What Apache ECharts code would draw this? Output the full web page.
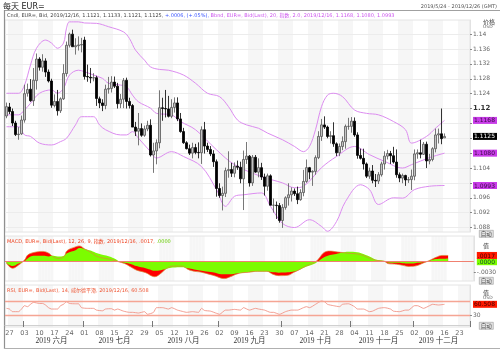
<!DOCTYPE html>
<html>
<head>
<meta charset="utf-8">
<script src="https://cdn.jsdelivr.net/npm/echarts@6/dist/echarts.min.js"></script>
<style>
  html, body { margin: 0; padding: 0; background: #fff; }
  #chart { width: 500px; height: 352px; }
</style>
</head>
<body>
<div id="chart"></div>
<script>
// --- categories: trading days 2019/5/24 .. 2019/12/26 ----------------------
const firstDay = "2019-05-24";
const lastDay = "2019-12-26";
const dates = [];
for (let d = new Date(firstDay + "T00:00:00Z"); d <= new Date(lastDay + "T00:00:00Z"); d.setUTCDate(d.getUTCDate() + 1)) {
  const w = d.getUTCDay();
  if (w !== 0 && w !== 6) dates.push(d.toISOString().slice(0, 10));
}

// --- daily candles (EUR=, bid) --------------------------------------------
const open = [
  1.1180, 1.1204, 1.1192, 1.1161, 1.1130, 1.1132, 1.1169, 1.1241, 1.1252, 1.1221,
  1.1275, 1.1333, 1.1311, 1.1328, 1.1298, 1.1274, 1.1208, 1.1219, 1.1194, 1.1226,
  1.1294, 1.1370, 1.1400, 1.1366, 1.1369, 1.1371, 1.1384, 1.1286, 1.1284, 1.1282,
  1.1283, 1.1226, 1.1215, 1.1208, 1.1252, 1.1254, 1.1271, 1.1260, 1.1213, 1.1225,
  1.1276, 1.1219, 1.1208, 1.1150, 1.1139, 1.1146, 1.1128, 1.1145, 1.1155, 1.1075,
  1.1086, 1.1108, 1.1202, 1.1200, 1.1199, 1.1179, 1.1203, 1.1215, 1.1172, 1.1138,
  1.1108, 1.1092, 1.1080, 1.1095, 1.1082, 1.1081, 1.1143, 1.1099, 1.1090, 1.1078,
  1.1057, 1.0985, 1.0966, 1.0972, 1.1033, 1.1036, 1.1026, 1.1045, 1.1042, 1.1011,
  1.1063, 1.1072, 1.1000, 1.1069, 1.1029, 1.1041, 1.1016, 1.0991, 1.1019, 1.0940,
  1.0940, 1.0939, 1.0899, 1.0934, 1.0960, 1.0968, 1.0978, 1.0971, 1.0955, 1.0974,
  1.1004, 1.1041, 1.1029, 1.1031, 1.1068, 1.1125, 1.1156, 1.1150, 1.1125, 1.1127,
  1.1105, 1.1081, 1.1098, 1.1111, 1.1152, 1.1152, 1.1166, 1.1129, 1.1074, 1.1066,
  1.1051, 1.1018, 1.1032, 1.1007, 1.1005, 1.1022, 1.1051, 1.1072, 1.1079, 1.1073,
  1.1056, 1.1022, 1.1013, 1.1020, 1.1008, 1.1009, 1.1018, 1.1078, 1.1081, 1.1077,
  1.1104, 1.1059, 1.1063, 1.1092, 1.1129, 1.1132, 1.1121
];
const high = [
  1.1216, 1.1215, 1.1200, 1.1167, 1.1150, 1.1181, 1.1264, 1.1267, 1.1279, 1.1309,
  1.1348, 1.1338, 1.1346, 1.1335, 1.1305, 1.1280, 1.1238, 1.1250, 1.1230, 1.1319,
  1.1380, 1.1404, 1.1412, 1.1389, 1.1394, 1.1390, 1.1393, 1.1318, 1.1309, 1.1295,
  1.1288, 1.1232, 1.1225, 1.1264, 1.1285, 1.1287, 1.1286, 1.1269, 1.1239, 1.1282,
  1.1283, 1.1229, 1.1212, 1.1164, 1.1188, 1.1160, 1.1154, 1.1167, 1.1171, 1.1108,
  1.1117, 1.1249, 1.1229, 1.1250, 1.1234, 1.1225, 1.1230, 1.1230, 1.1188, 1.1148,
  1.1112, 1.1103, 1.1108, 1.1105, 1.1109, 1.1152, 1.1164, 1.1108, 1.1099, 1.1088,
  1.1063, 1.0999, 1.0990, 1.1041, 1.1085, 1.1054, 1.1055, 1.1060, 1.1057, 1.1087,
  1.1110, 1.1075, 1.1075, 1.1075, 1.1066, 1.1054, 1.1025, 1.1025, 1.1023, 1.0958,
  1.0950, 1.0946, 1.0943, 1.0964, 1.0999, 1.0988, 1.0985, 1.0990, 1.0983, 1.1035,
  1.1063, 1.1043, 1.1034, 1.1074, 1.1139, 1.1172, 1.1179, 1.1154, 1.1139, 1.1163,
  1.1109, 1.1106, 1.1125, 1.1157, 1.1175, 1.1177, 1.1176, 1.1136, 1.1092, 1.1092,
  1.1055, 1.1041, 1.1048, 1.1024, 1.1029, 1.1057, 1.1085, 1.1089, 1.1086, 1.1097,
  1.1090, 1.1028, 1.1025, 1.1022, 1.1016, 1.1036, 1.1090, 1.1090, 1.1116, 1.1110,
  1.1111, 1.1078, 1.1096, 1.1146, 1.1146, 1.1200, 1.1133
];
const low = [
  1.1174, 1.1185, 1.1153, 1.1126, 1.1116, 1.1129, 1.1162, 1.1232, 1.1218, 1.1207,
  1.1251, 1.1302, 1.1299, 1.1285, 1.1270, 1.1202, 1.1203, 1.1181, 1.1188, 1.1223,
  1.1286, 1.1364, 1.1366, 1.1345, 1.1356, 1.1351, 1.1278, 1.1272, 1.1268, 1.1273,
  1.1207, 1.1201, 1.1193, 1.1198, 1.1240, 1.1243, 1.1255, 1.1200, 1.1201, 1.1201,
  1.1200, 1.1200, 1.1150, 1.1126, 1.1101, 1.1124, 1.1124, 1.1139, 1.1071, 1.1027,
  1.1050, 1.1093, 1.1167, 1.1176, 1.1176, 1.1174, 1.1189, 1.1166, 1.1135, 1.1105,
  1.1090, 1.1075, 1.1066, 1.1077, 1.1066, 1.1051, 1.1079, 1.1083, 1.1072, 1.1043,
  1.0963, 1.0960, 1.0926, 1.0962, 1.1014, 1.1016, 1.1015, 1.1035, 1.0999, 1.0927,
  1.1051, 1.0990, 1.0992, 1.1027, 1.1015, 1.1008, 1.0966, 1.0979, 1.0940, 1.0920,
  1.0903, 1.0893, 1.0879, 1.0928, 1.0939, 1.0950, 1.0965, 1.0943, 1.0952, 1.0964,
  1.1000, 1.1010, 1.0992, 1.1022, 1.1064, 1.1113, 1.1145, 1.1120, 1.1106, 1.1097,
  1.1072, 1.1072, 1.1088, 1.1092, 1.1143, 1.1135, 1.1124, 1.1065, 1.1063, 1.1036,
  1.1013, 1.1011, 1.0999, 1.0989, 1.0997, 1.1017, 1.1036, 1.1063, 1.1051, 1.1052,
  1.1014, 1.1002, 1.0999, 1.0992, 1.1000, 1.0981, 1.1007, 1.1065, 1.1066, 1.1075,
  1.1040, 1.1050, 1.1058, 1.1082, 1.1106, 1.1104, 1.1121
];
const close = [
  1.1205, 1.1192, 1.1161, 1.1130, 1.1131, 1.1169, 1.1240, 1.1251, 1.1221, 1.1276,
  1.1333, 1.1311, 1.1328, 1.1298, 1.1274, 1.1209, 1.1219, 1.1194, 1.1226, 1.1294,
  1.1370, 1.1400, 1.1366, 1.1369, 1.1371, 1.1372, 1.1286, 1.1285, 1.1282, 1.1283,
  1.1227, 1.1215, 1.1208, 1.1252, 1.1254, 1.1271, 1.1260, 1.1213, 1.1225, 1.1275,
  1.1219, 1.1208, 1.1150, 1.1139, 1.1146, 1.1128, 1.1145, 1.1155, 1.1075, 1.1086,
  1.1108, 1.1202, 1.1200, 1.1199, 1.1179, 1.1203, 1.1215, 1.1172, 1.1138, 1.1108,
  1.1092, 1.1080, 1.1095, 1.1082, 1.1081, 1.1143, 1.1099, 1.1090, 1.1078, 1.1057,
  1.0985, 1.0966, 1.0972, 1.1033, 1.1036, 1.1026, 1.1045, 1.1042, 1.1011, 1.1063,
  1.1072, 1.1000, 1.1069, 1.1029, 1.1041, 1.1016, 1.0991, 1.1019, 1.0940, 1.0940,
  1.0939, 1.0899, 1.0934, 1.0960, 1.0968, 1.0978, 1.0971, 1.0955, 1.0974, 1.1004,
  1.1041, 1.1029, 1.1031, 1.1068, 1.1125, 1.1156, 1.1150, 1.1125, 1.1127, 1.1105,
  1.1081, 1.1098, 1.1111, 1.1152, 1.1152, 1.1166, 1.1129, 1.1074, 1.1066, 1.1051,
  1.1018, 1.1032, 1.1007, 1.1005, 1.1022, 1.1051, 1.1072, 1.1079, 1.1073, 1.1056,
  1.1022, 1.1013, 1.1020, 1.1008, 1.1009, 1.1018, 1.1078, 1.1081, 1.1077, 1.1104,
  1.1059, 1.1063, 1.1092, 1.1129, 1.1132, 1.1119, 1.1125
];

// --- Bollinger (20, 2.0): [day index, price] -------------------------------
const bbUpper = [
  [0, 1.1241], [4, 1.1241], [6, 1.1263], [8, 1.1317], [10, 1.1362], [13, 1.1384], [15, 1.1376],
  [17, 1.1362], [19, 1.1376], [20, 1.1416], [21, 1.1433], [24, 1.1433], [26, 1.1430], [30, 1.1429],
  [34, 1.1420], [39, 1.1406], [41, 1.1388], [43, 1.1357], [46, 1.1330], [48, 1.1312], [51, 1.1305],
  [54, 1.1303], [59, 1.1290], [63, 1.1268], [67, 1.1241], [71, 1.1232], [74, 1.1205], [77, 1.1169],
  [80, 1.1156], [84, 1.1147], [87, 1.1134], [92, 1.1116], [96, 1.1098], [99, 1.1084], [101, 1.1098],
  [103, 1.1143], [105, 1.1205], [107, 1.1236], [109, 1.1241], [112, 1.1232], [116, 1.1196],
  [120, 1.1187], [124, 1.1183], [129, 1.1165], [133, 1.1143], [135, 1.1107], [140, 1.1125],
  [143, 1.1147], [146, 1.1168]
];
const bbMid = [
  [0, 1.1183], [4, 1.1183], [6, 1.1196], [8, 1.1214], [11, 1.1241], [15, 1.1250], [17, 1.1241],
  [19, 1.1254], [21, 1.1290], [24, 1.1303], [26, 1.1299], [29, 1.1290], [32, 1.1281], [34, 1.1268],
  [38, 1.1263], [40, 1.1259], [42, 1.1236], [44, 1.1218], [48, 1.1201], [50, 1.1187], [55, 1.1183],
  [58, 1.1165], [63, 1.1143], [70, 1.1089], [76, 1.1049], [85, 1.1017], [92, 1.1000], [96, 1.0987],
  [99, 1.0991], [105, 1.1041], [110, 1.1071], [116, 1.1098], [121, 1.1076], [126, 1.1058],
  [132, 1.1040], [135, 1.1049], [141, 1.1068], [146, 1.1080]
];
const bbLower = [
  [0, 1.1151], [4, 1.1151], [6, 1.1129], [8, 1.1125], [11, 1.1107], [15, 1.1102], [18, 1.1111],
  [20, 1.1120], [23, 1.1156], [25, 1.1178], [29, 1.1178], [31, 1.1156], [33, 1.1143], [38, 1.1129],
  [40, 1.1129], [42, 1.1138], [44, 1.1120], [48, 1.1084], [50, 1.1067], [55, 1.1084], [59, 1.1071],
  [65, 1.1044], [70, 1.0982], [73, 1.0937], [76, 1.0964], [79, 1.0968], [85, 1.0973], [88, 1.0937],
  [92, 1.0891], [96, 1.0880], [101, 1.0901], [105, 1.0883], [107, 1.0870], [110, 1.0896],
  [113, 1.0950], [118, 1.0995], [121, 1.0982], [124, 1.0942], [129, 1.0960], [132, 1.0959],
  [136, 1.0982], [141, 1.0991], [146, 1.0993]
];

// --- MACD (12, 26, 9): [day index, value] ---------------------------------
const macdLine = [
  [0, -0.00045], [2, -0.0018], [4, -0.0009], [6, 0.0005], [7, 0.0018], [9, 0.0025], [12, 0.0028],
  [14, 0.0023], [15, 0.0016], [17, 0.0009], [19, 0.0014], [20, 0.0030], [23, 0.0041], [24, 0.0043],
  [26, 0.0034], [28, 0.0025], [30, 0.0014], [34, 0.0007], [36, 0.0003], [37, 0.0], [39, -0.0005],
  [41, -0.0014], [43, -0.0023], [46, -0.0030], [48, -0.0039], [49, -0.0041], [51, -0.0032],
  [53, -0.0018], [55, -0.0012], [58, -0.0012], [60, -0.0021], [62, -0.0026], [64, -0.0028],
  [66, -0.0032], [69, -0.0039], [71, -0.0045], [72, -0.0046], [74, -0.0041], [76, -0.0034],
  [78, -0.0030], [80, -0.0029], [83, -0.0026], [86, -0.0026], [88, -0.0034], [90, -0.0038],
  [93, -0.0037], [95, -0.0029], [97, -0.0021], [99, -0.0012], [102, -0.0001], [103, 0.0006],
  [105, 0.0025], [107, 0.0029], [109, 0.0027], [111, 0.0025], [113, 0.0023], [116, 0.0021],
  [118, 0.0017], [120, 0.0010], [122, 0.0004], [125, 0.0001], [126, -0.0005], [129, -0.0007],
  [131, -0.0010], [133, -0.0013], [135, -0.0012], [138, -0.0003], [140, 0.0004], [142, 0.0012],
  [144, 0.0017], [146, 0.0017]
];
const macdSignal = [
  [0, -0.00045], [2, -0.0012], [4, -0.0005], [6, 0.0002], [7, 0.0009], [9, 0.0016], [12, 0.0016],
  [14, 0.0014], [15, 0.0016], [17, 0.0014], [19, 0.0016], [20, 0.0023], [23, 0.0032], [24, 0.0037],
  [26, 0.0034], [28, 0.0030], [30, 0.0023], [34, 0.0014], [36, 0.0007], [37, 0.0002], [39, -0.0003],
  [41, -0.0006], [43, -0.0012], [46, -0.0018], [48, -0.0023], [49, -0.0025], [51, -0.0023],
  [53, -0.0019], [55, -0.0016], [58, -0.0015], [60, -0.0018], [62, -0.0021], [64, -0.0024],
  [66, -0.0027], [69, -0.0030], [71, -0.0034], [72, -0.0034], [74, -0.0034], [76, -0.0032],
  [78, -0.0030], [80, -0.0028], [83, -0.0027], [86, -0.0027], [88, -0.0029], [90, -0.0030],
  [93, -0.0029], [95, -0.0027], [97, -0.0021], [99, -0.0014], [102, -0.0005], [103, 0.0001],
  [105, 0.0012], [107, 0.0018], [109, 0.0021], [111, 0.0025], [113, 0.0027], [116, 0.0026],
  [118, 0.0021], [120, 0.0014], [122, 0.0006], [125, 0.0002], [126, -0.0002], [129, -0.0003],
  [131, -0.0004], [133, -0.0005], [135, -0.0004], [138, -0.0001], [140, 0.0003], [142, 0.0007],
  [144, 0.0008], [146, 0.0009]
];

// --- RSI (14, Wilder): [day index, value] ---------------------------------
const rsi = [
  [0, 49], [1, 47], [2, 39.5], [4, 39.5], [5, 47], [6, 56.6], [7, 53.8], [8, 60.5], [9, 66], [11, 63],
  [12, 63], [13, 58.6], [14, 51], [15, 47], [17, 47], [18, 56.6], [19, 60.5], [20, 68], [21, 63],
  [23, 62], [24, 62], [25, 51], [27, 49], [29, 49], [30, 44], [32, 42], [33, 47], [35, 48], [36, 44],
  [37, 47], [39, 41], [41, 37.6], [42, 37.6], [44, 35.7], [46, 39.5], [47, 32], [49, 37.6], [50, 51],
  [52, 51], [54, 47], [55, 51], [57, 44], [59, 39.5], [60, 37.6], [62, 39.5], [64, 37.6], [65, 49],
  [66, 43], [68, 41], [70, 34.8], [71, 32], [73, 44], [74, 44], [76, 46], [78, 44], [79, 51], [81, 44],
  [83, 49], [84, 47], [86, 44], [88, 37.6], [89, 37.6], [91, 32], [93, 39.5], [95, 44], [97, 44],
  [99, 51], [100, 53.8], [101, 51], [103, 60.5], [105, 70], [106, 68], [107, 60.5], [109, 56.6],
  [111, 53.8], [112, 60.5], [114, 62], [116, 53.8], [117, 47], [119, 47], [121, 39.5], [122, 41],
  [124, 49], [126, 51], [128, 47], [129, 41], [131, 39.5], [133, 44], [134, 44], [136, 56.6],
  [137, 56.6], [139, 49], [141, 56.6], [142, 60.5], [144, 58.6], [146, 60.508]
];
const rsiLevels = [70, 30];

// --- axis labels -----------------------------------------------------------
const priceTicks = [1.088, 1.092, 1.096, 1.1, 1.104, 1.108, 1.112, 1.116, 1.12, 1.124, 1.128, 1.132, 1.136, 1.14];
const priceTickLabels = [1.088, 1.092, 1.096, 1.104, 1.12, 1.124, 1.128, 1.132, 1.136, 1.14];
const monthNames = ["2019 六月", "2019 七月", "2019 八月", "2019 九月", "2019 十月", "2019 十一月", "2019 十二月"];
const monthLabelDays = ["2019-06-14", "2019-07-15", "2019-08-15", "2019-09-16", "2019-10-16", "2019-11-14", "2019-12-12"];

// ---------------------------------------------------------------------------
const last = close.length - 1;
const lastOf = (arr) => arr[arr.length - 1][1];
const mondayIdx = dates.map((d) => new Date(d + "T00:00:00Z").getUTCDay() === 1);
// alternate week shading, week of 5/27 shaded
const shade = dates.map((d, i) => (i >= 1 && Math.floor((i - 1) / 5) % 2 === 0 ? 1 : "-"));
const monthStart = dates.map((d, i) => i > 0 && d.slice(5, 7) !== dates[i - 1].slice(5, 7));

const SANS = "DejaVu Sans, Noto Sans CJK SC, sans-serif";
const SERIF = "Liberation Serif, Noto Sans CJK SC, serif";
const GRID_L = 5, GRID_W = 472;
const paneBorder = { show: true, borderColor: "#e4e4e4", borderWidth: 1 };
const grids = [
  Object.assign({ left: GRID_L, width: GRID_W, top: 20, height: 212 }, paneBorder),
  Object.assign({ left: GRID_L, width: GRID_W, top: 236, height: 45 }, paneBorder),
  Object.assign({ left: GRID_L, width: GRID_W, top: 285, height: 42 }, paneBorder),
];
const MACD_MIN = -0.00526, MACD_MAX = 0.0070;

// boxed "last value" labels live on the right-hand value axes
const box = (bg, fg) => ({ backgroundColor: bg, color: fg, fontSize: 6, fontFamily: SANS, padding: [1, 2, 0, 1], lineHeight: 6 });
const richBoxes = {
  n: { color: "#666", fontSize: 6, fontFamily: SANS },
  big: { color: "#333", fontSize: 7, fontWeight: "bold", fontFamily: SANS },
  bb: box("#c83ce8", "#3a0a45"),
  px: box("#000", "#fff"),
  red: box("#ff1a00", "#400"),
  grn: box("#7cfc00", "#143"),
};
function boxedAxis(boxes, plain) {
  return (v) => {
    const hit = boxes.find((b) => Math.abs(b[0] - v) < 1e-9);
    if (hit) return `{${hit[1]}|${hit[2]}}`;
    return plain ? plain(v) : `{n|${v}}`;
  };
}
const priceBoxes = [
  [lastOf(bbUpper), "bb", "1.1168"],
  [close[last], "px", close[last].toFixed(4)],
  [lastOf(bbMid), "bb", "1.1080"],
  [lastOf(bbLower), "bb", "1.0993"],
];
const macdBoxes = [[0, "grn", ".0000"]];
const macdLastBox = [[lastOf(macdLine), "red", ".0017"]];
const rsiBoxes = [[lastOf(rsi), "red", "60.508"]];

function catAxis(gridIndex, extra) {
  return Object.assign({
    type: "category", gridIndex, position: "bottom", data: dates, boundaryGap: true,
    axisLine: { show: false }, axisTick: { show: false }, axisLabel: { show: false },
    splitLine: { show: false },
  }, extra || {});
}
const shadeSeries = (g) => ({
  type: "bar", xAxisIndex: g, yAxisIndex: 3 + g, data: shade, barWidth: "100%", barGap: "-100%",
  itemStyle: { color: "#f6f6f6" }, silent: true, z: -1, animation: false,
});
const bandLine = (data) => ({
  type: "line", xAxisIndex: 0, yAxisIndex: 0, data, smooth: 0.35, showSymbol: false, silent: true,
  lineStyle: { color: "#dc8cf0", width: 1 }, z: 3, animation: false,
});
// "自动" scale buttons at the bottom right of each pane
const autoBtn = (y) => ({
  type: "group", left: 479, top: y,
  children: [
    { type: "rect", shape: { x: 0, y: 0, width: 14, height: 7 }, style: { fill: "#e4e4e4", stroke: "#9a9a9a", lineWidth: 0.6 } },
    { type: "text", x: 1.5, y: 1, style: { text: "自动", font: "5.5px Noto Sans CJK SC", fill: "#444" } },
  ],
});
const valueAxis = (gridIndex, min, max, ticks, labels, formatter, extra) => Object.assign({
  type: "value", gridIndex, position: "right", min, max,
  axisLine: { show: true, lineStyle: { color: "#e2e2e2" } },
  axisTick: { show: true, customValues: ticks, length: 2, lineStyle: { color: "#888" } },
  axisLabel: { customValues: labels, margin: 3, rich: richBoxes, hideOverlap: false, formatter },
  splitLine: { show: false },
}, extra || {});

const chart = echarts.init(document.getElementById("chart"), null, { renderer: "canvas" });
chart.setOption({
  backgroundColor: "#fff",
  animation: false,
  grid: grids,
  xAxis: [
    catAxis(0),
    catAxis(1),
    catAxis(2, {
      axisLine: { show: true, lineStyle: { color: "#d0d0d0" } },
      axisLabel: {
        show: true, interval: (i) => mondayIdx[i], formatter: (v) => v.slice(8),
        color: "#666", fontSize: 6.5, fontFamily: SANS, margin: 3,
      },
    }),
    catAxis(2, {
      offset: 17,
      axisTick: { show: true, inside: true, length: 6, interval: (i) => monthStart[i], lineStyle: { color: "#777" } },
      axisLabel: {
        show: true, margin: -3, verticalAlign: "middle",
        interval: (i) => monthLabelDays.includes(dates[i]),
        formatter: (v) => monthNames[monthLabelDays.indexOf(v)],
        color: "#333", fontSize: 7.5, fontFamily: SERIF,
      },
    }),
  ],
  yAxis: [
    valueAxis(0, 1.0868, 1.1438, priceTicks, priceTickLabels.concat(priceBoxes.map((b) => b[0])),
      boxedAxis(priceBoxes, (v) => (v === 1.12 ? "{big|1.12}" : `{n|${v}}`)),
      { splitLine: { show: true, lineStyle: { color: "#ececec" } } }),
    valueAxis(1, MACD_MIN, MACD_MAX, [-0.003], [-0.003, 0], boxedAxis(macdBoxes, () => "{n|-.0030}")),
    valueAxis(2, -4.3, 115.7, [30], [30, lastOf(rsi)], boxedAxis(rsiBoxes)),
    { type: "value", gridIndex: 0, min: 0, max: 1, show: false },
    { type: "value", gridIndex: 1, min: 0, max: 1, show: false },
    { type: "value", gridIndex: 2, min: 0, max: 1, show: false },
    // second MACD scale only carries the MACD last-value box (kept apart from the signal box)
    valueAxis(1, MACD_MIN, MACD_MAX, [], [lastOf(macdLine)], boxedAxis(macdLastBox), {
      axisLine: { show: false }, axisTick: { show: false },
    }),
  ],
  series: [
    shadeSeries(0), shadeSeries(1), shadeSeries(2),
    bandLine(bbUpper), bandLine(bbMid), bandLine(bbLower),
    {
      type: "candlestick", xAxisIndex: 0, yAxisIndex: 0, barWidth: 2, z: 4,
      data: open.map((o, i) => [o, close[i], low[i], high[i]]),
      itemStyle: { color: "#c4c4c4", borderColor: "#555", color0: "#000", borderColor0: "#000", borderWidth: 0.8 },
    },
    {
      type: "line", xAxisIndex: 1, yAxisIndex: 1, data: macdLine, smooth: 0.4, showSymbol: false,
      lineStyle: { width: 0 }, areaStyle: { color: "#ff0000", opacity: 1 }, z: 2, silent: true,
    },
    {
      type: "line", xAxisIndex: 1, yAxisIndex: 1, data: macdSignal, smooth: 0.4, showSymbol: false,
      lineStyle: { width: 0 }, areaStyle: { color: "#7cfc00", opacity: 1 }, z: 3, silent: true,
    },
    {
      type: "line", xAxisIndex: 1, yAxisIndex: 1, data: macdLine, smooth: 0.4, showSymbol: false,
      lineStyle: { width: 0.7, color: "#d98a3a" }, z: 4, silent: true,
      markLine: {
        silent: true, symbol: "none", label: { show: false },
        lineStyle: { color: "#f08070", width: 1, type: "solid" }, data: [{ yAxis: 0 }],
      },
    },
    {
      type: "line", xAxisIndex: 2, yAxisIndex: 2, data: rsi, smooth: 0.2, showSymbol: false,
      lineStyle: { width: 0.8, color: "#f08878" }, z: 4, silent: true,
      markLine: {
        silent: true, symbol: "none", label: { show: false },
        lineStyle: { color: "#f5a594", width: 1.4, type: "solid" },
        data: rsiLevels.map((v) => ({ yAxis: v })),
      },
    },
  ],
  graphic: [
    { type: "text", left: 3, top: 3, style: { text: "每天 EUR=", font: "8px " + SANS, fill: "#222" } },
    { type: "text", right: 3, top: 4, style: { text: "2019/5/24 - 2019/12/26 (GMT)", font: "5px " + SANS, fill: "#555" } },
    { type: "line", shape: { x1: 4, y1: 10.5, x2: 500, y2: 10.5 }, style: { stroke: "#a0a0a0", lineWidth: 1 } },
    { type: "line", shape: { x1: 4.5, y1: 10, x2: 4.5, y2: 349 }, style: { stroke: "#909090", lineWidth: 1.2 } },
    { type: "line", shape: { x1: 4, y1: 348.5, x2: 500, y2: 348.5 }, style: { stroke: "#b0b0b0", lineWidth: 1 } },
    {
      type: "text", left: 7, top: 13,
      style: {
        rich: {
          a: { fill: "#444", font: "5px " + SANS },
          b: { fill: "#3a55ff", font: "5px " + SANS },
          c: { fill: "#cc55ee", font: "5px " + SANS },
        },
        text: "{a|Cndl, EUR=, Bid, 2019/12/16, 1.1121, 1.1133, 1.1121, 1.1125, }{b|+.0006, (+.05%), }{c|Bbnd, EUR=, Bid(Last), 20, 指数, 2.0, 2019/12/16, 1.1168, 1.1080, 1.0993}",
      },
    },
    {
      type: "text", left: 7, top: 239.5,
      style: {
        rich: { a: { fill: "#ee4422", font: "5px " + SANS }, b: { fill: "#66cc00", font: "5px " + SANS } },
        text: "{a|MACD, EUR=, Bid(Last), 12, 26, 9, 指数, 2019/12/16, .0017, }{b|.0000}",
      },
    },
    { type: "text", left: 7, top: 288.5, style: { text: "RSI, EUR=, Bid(Last), 14, 威尔德平滑, 2019/12/16, 60.508", font: "5px " + SANS, fill: "#ee5533" } },
    { type: "text", left: 483, top: 19, style: { text: "价格", font: "6px " + SANS, fill: "#444" } },
    { type: "text", left: 483, top: 25, style: { text: "USD", font: "4.5px " + SANS, fill: "#666" } },
    { type: "text", left: 483, top: 243, style: { text: "值", font: "6px " + SANS, fill: "#444" } },
    { type: "text", left: 483, top: 290, style: { text: "值", font: "6px " + SANS, fill: "#444" } },
    { type: "text", left: 483, top: 296, style: { text: "USD", font: "4.5px " + SANS, fill: "#666" } },
    autoBtn(230), autoBtn(277), autoBtn(322),
  ],
});
</script>
</body>
</html>
